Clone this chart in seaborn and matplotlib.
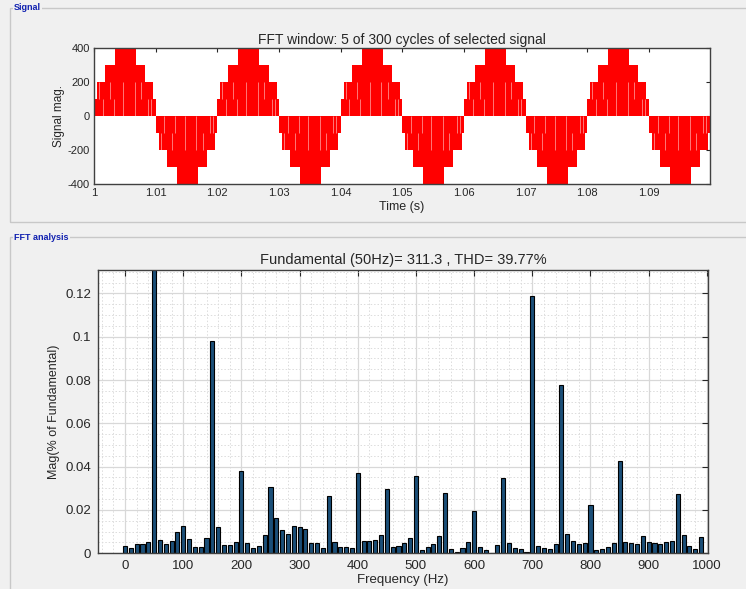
import numpy as np
import pandas as pd
import matplotlib
matplotlib.use("Agg")
import matplotlib.pyplot as plt
from matplotlib.patches import Rectangle
import seaborn as sns

# ==========================
# Data
# ==========================

# FFT bars every 10 Hz, 0..990 Hz (Mag in % of fundamental); 50 Hz is the fundamental (off scale)
freqs = list(range(0, 1000, 10))
mags = [
    0.0034, 0.0023, 0.0042, 0.0045, 0.0052, 100.0, 0.0062, 0.0042, 0.0058, 0.0098,   # 0-90
    0.0128, 0.0068, 0.0028, 0.0029, 0.0072, 0.0980, 0.0122, 0.0038, 0.0038, 0.0054,  # 100-190
    0.0382, 0.0046, 0.0025, 0.0035, 0.0083, 0.0308, 0.0165, 0.0106, 0.0088, 0.0128,  # 200-290
    0.0123, 0.0112, 0.0046, 0.0046, 0.0023, 0.0263, 0.0054, 0.0030, 0.0028, 0.0023,  # 300-390
    0.0369, 0.0055, 0.0057, 0.0062, 0.0083, 0.0295, 0.0031, 0.0034, 0.0046, 0.0072,  # 400-490
    0.0355, 0.0014, 0.0031, 0.0045, 0.0080, 0.0280, 0.0018, 0.0007, 0.0023, 0.0052,  # 500-590
    0.0197, 0.0029, 0.0014, 0.0003, 0.0037, 0.0346, 0.0048, 0.0025, 0.0022, 0.0008,  # 600-690
    0.1188, 0.0034, 0.0025, 0.0020, 0.0042, 0.0777, 0.0088, 0.0055, 0.0041, 0.0046,  # 700-790
    0.0223, 0.0015, 0.0022, 0.0028, 0.0048, 0.0425, 0.0054, 0.0046, 0.0045, 0.0080,  # 800-890
    0.0051, 0.0046, 0.0043, 0.0052, 0.0057, 0.0274, 0.0085, 0.0032, 0.0020, 0.0077,  # 900-990
]

# staircase envelope of one positive half cycle (ms, level); negative half mirrors it
half_t_ms = [0.0, 0.5, 1.8, 3.4, 6.8, 8.3, 9.6, 10.0]
half_level = [100, 200, 300, 400, 300, 200, 100]
# white PWM slivers inside one positive half cycle (ms, low, high)
notch_ms = [0.8, 1.4, 2.6, 3.2, 4.7, 6.6, 7.6, 8.8, 9.3]
notch_lo = [100, 0, 100, 0, 0, 0, 100, 0, 0]
notch_hi = [200, 100, 200, 100, 200, 200, 200, 100, 100]
n_cycles = 5
t_start = 1.0
period_ms = 20.0

fft_title = "Fundamental (50Hz)= 311.3 , THD= 39.77%"
sig_title = "FFT window: 5 of 300 cycles of selected signal"

# ==========================
# Build signal steps from the one-cycle reading
# ==========================
t_pts, v_pts = [], []
for c in range(n_cycles):
    for sign in (1, -1):
        off = c * period_ms + (0 if sign == 1 else period_ms / 2)
        for k, lev in enumerate(half_level):
            t_pts.append(t_start + (off + half_t_ms[k]) / 1000.0)
            v_pts.append(sign * lev)
t_pts.append(t_start + n_cycles * period_ms / 1000.0)
v_pts.append(v_pts[-1])
sig = pd.DataFrame({"t": t_pts, "v": v_pts})

fft_df = pd.DataFrame({"f": freqs, "mag": mags})

# ==========================
# Figure
# ==========================
sns.set_style("white")
plt.rcParams["font.family"] = ["Liberation Sans", "DejaVu Sans"]
bg = "#f0f0f0"
fig = plt.figure(figsize=(7.46, 5.89), dpi=100, facecolor=bg)

# group boxes
for (y0, y1, lab) in [(222, 8, "Signal"), (640, 237, "FFT analysis")]:
    fig.patches.append(Rectangle((10 / 746, 1 - y0 / 589), 1.0, (y0 - y1) / 589,
                                 transform=fig.transFigure, fill=False,
                                 edgecolor="#c8c8c8", linewidth=1.0))
    fig.text(14 / 746, 1 - y1 / 589, lab, color="#1020b0", fontsize=6.5,
             fontweight="bold", va="center", ha="left",
             bbox=dict(facecolor=bg, edgecolor="none", pad=1))

# ---- Signal panel ----
ax1 = fig.add_axes([94 / 746, 1 - 184 / 589, 616 / 746, 136 / 589])
ax1.set_facecolor("white")
ax1.fill_between(sig["t"], sig["v"], 0, step="post", color="#ff0000", linewidth=0)
for c in range(n_cycles):
    for sign in (1, -1):
        off = c * period_ms + (0 if sign == 1 else period_ms / 2)
        for tm, lo, hi in zip(notch_ms, notch_lo, notch_hi):
            tt = t_start + (off + tm) / 1000.0
            ax1.vlines(tt, sign * lo, sign * hi, color="white", linewidth=0.6, alpha=0.55)
ax1.set_xlim(1.0, 1.0999)
ax1.set_ylim(-400, 400)
ax1.set_xticks([1 + i / 100 for i in range(10)])
ax1.set_xticklabels(["1"] + [f"1.0{i}" for i in range(1, 10)])
ax1.set_yticks([-400, -200, 0, 200, 400])
ax1.set_yticklabels(["-400", "-200", "0", "200", "400"])
ax1.tick_params(direction="in", length=3, labelsize=8, top=True, right=True, pad=3)
ax1.set_title(sig_title, fontsize=10, pad=3)
ax1.set_xlabel("Time (s)", fontsize=9, labelpad=2)
ax1.set_ylabel("Signal mag.", fontsize=8.5, labelpad=2)
for s in ax1.spines.values():
    s.set_color("#404040")
    s.set_linewidth(1.0)

# ---- FFT panel ----
ax2 = fig.add_axes([98.3 / 746, 1 - 553.3 / 589, 609.7 / 746, 283.3 / 589])
ax2.set_facecolor("white")
ax2.set_xticks(range(0, 1001, 100))
ax2.set_xticks(range(-40, 1001, 20), minor=True)
ax2.set_yticks([0, 0.02, 0.04, 0.06, 0.08, 0.1, 0.12])
ax2.set_yticks(np.arange(0, 0.131, 0.005), minor=True)
ax2.grid(which="major", color="#d8d8d8", linewidth=0.9, linestyle="-")
ax2.grid(which="minor", color="#dcdcdc", linewidth=0.7, linestyle=(0, (1.5, 2)))
ax2.set_axisbelow(True)
sns.barplot(data=fft_df, x="f", y="mag", native_scale=True, width=0.7,
            color="#1b4f78", saturation=1, edgecolor="black", linewidth=0.8,
            errorbar=None, ax=ax2)
ax2.set_xlim(-46, 1002)
ax2.set_ylim(0, 0.1308)
ax2.set_xticklabels([str(v) for v in range(0, 1001, 100)])
ax2.set_yticklabels(["0", "0.02", "0.04", "0.06", "0.08", "0.1", "0.12"])
ax2.tick_params(which="major", direction="in", length=4, labelsize=9.5, top=True, right=True, pad=5)
ax2.tick_params(which="minor", length=0)
ax2.set_title(fft_title, fontsize=10.5, pad=4)
ax2.set_xlabel("Frequency (Hz)", fontsize=9.5, labelpad=1)
ax2.set_ylabel("Mag(% of Fundamental)", fontsize=9, labelpad=4)
for s in ax2.spines.values():
    s.set_color("#404040")
    s.set_linewidth(1.0)

fig.savefig("out.png", dpi=100, facecolor=bg)
